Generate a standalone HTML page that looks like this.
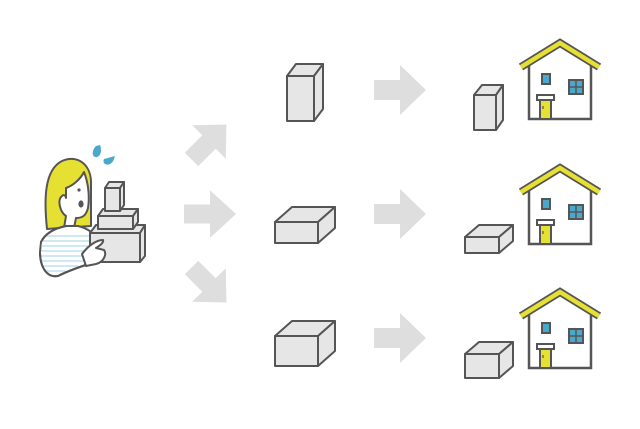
<!DOCTYPE html>
<html><head><meta charset="utf-8"><style>html,body{margin:0;padding:0;background:#fff}svg{display:block}</style></head>
<body>
<svg width="640" height="429" viewBox="0 0 640 429" xmlns="http://www.w3.org/2000/svg">
<defs>
<path id="arr" d="M-26,-10 L0,-10 L0,-25 L26,0 L0,25 L0,10 L-26,10 Z" fill="#dedede"/>
<g id="house">
  <path d="M529,119 L529,62 L560,44 L591,62 L591,119 Z" fill="#fff" stroke="#555" stroke-width="2.5"/>
  <path d="M521,67 L560,43 L599,67" fill="none" stroke="#555" stroke-width="8" stroke-linejoin="miter"/>
  <path d="M521,67 L560,43 L599,67" fill="none" stroke="#e6e033" stroke-width="4.5"/>
  <rect x="542" y="74" width="8" height="10" fill="#4aa8cc" stroke="#555" stroke-width="2"/>
  <rect x="569" y="80" width="14" height="14" fill="#4aa8cc" stroke="#555" stroke-width="2"/>
  <path d="M576,80 V94 M569,87 H583" stroke="#555" stroke-width="1.5"/>
  <rect x="537" y="95" width="17" height="5" fill="#fff" stroke="#555" stroke-width="2"/>
  <rect x="540" y="100" width="11" height="19" fill="#e6e033" stroke="#555" stroke-width="2"/>
  <line x1="543" y1="106" x2="543" y2="109" stroke="#555" stroke-width="1.2"/>
</g>
</defs>
<g fill="#e6e6e6" stroke="#555" stroke-width="2" stroke-linejoin="round">
<path d="M287,76 L296,64 L323,64 L314,76 Z"/><rect x="287" y="76" width="27" height="45"/><path d="M314,76 L323,64 L323,109 L314,121 Z"/>
<path d="M275,222 L292,207 L335,207 L318,222 Z"/><rect x="275" y="222" width="43" height="21"/><path d="M318,222 L335,207 L335,228 L318,243 Z"/>
<path d="M275,336 L292,321 L335,321 L318,336 Z"/><rect x="275" y="336" width="43" height="30"/><path d="M318,336 L335,321 L335,351 L318,366 Z"/>
<path d="M474,95 L482,85 L503,85 L496,95 Z"/><rect x="474" y="95" width="22" height="35"/><path d="M496,95 L503,85 L503,120 L496,130 Z"/>
<path d="M465,237 L479,225 L513,225 L499,237 Z"/><rect x="465" y="237" width="34" height="16"/><path d="M499,237 L513,225 L513,241 L499,253 Z"/>
<path d="M465,354 L479,342 L513,342 L499,354 Z"/><rect x="465" y="354" width="34" height="24"/><path d="M499,354 L513,342 L513,366 L499,378 Z"/>
</g>
<use href="#arr" transform="translate(400,90)"/>
<use href="#arr" transform="translate(400,214)"/>
<use href="#arr" transform="translate(400,338)"/>
<use href="#arr" transform="translate(210,214) scale(1,0.95)"/>
<use href="#arr" transform="translate(209,142) rotate(-45) scale(0.95)"/>
<use href="#arr" transform="translate(209,285) rotate(45) scale(0.95)"/>
<use href="#house"/>
<use href="#house" transform="translate(0,125)"/>
<use href="#house" transform="translate(0,249)"/>
<!-- person -->
<g stroke="#555" stroke-width="2" stroke-linejoin="round" stroke-linecap="round">
  <path d="M47,229 C44,200 44,170 62,161 C78,154 92,165 91,185 L91,226 L60,228 Z" fill="#e6e033"/>
  <path d="M66,188 C72,186 80,180 84,172 C88,182 90,196 88,208 C86,216 82,218 76,218 L74,228 L64,228 L66,216 C60,212 57,200 62,196 C64,194 66,196 66,198 Z" fill="#fff"/>
  <path d="M41,242 C46,232 56,228 66,226 L78,226 C86,228 92,232 95,236 L95,262 C82,266 70,270 58,276 C46,278 40,266 40,252 Z" fill="#fff"/>
</g>
<g stroke="#9fd3e6" stroke-width="1">
  <path d="M46,236 H93 M42,241 H93 M41,246 H93 M41,251 H93 M41,256 H93 M41,261 H90 M42,266 H78 M44,271 H66"/>
</g>
<path d="M41,242 C46,232 56,228 66,226 M40,252 C40,266 46,278 58,276 C70,270 82,266 95,262" fill="none" stroke="#555" stroke-width="2"/>
<circle cx="79" cy="190" r="1.6" fill="#555"/>
<ellipse cx="81" cy="204" rx="2.6" ry="3.6" fill="#555"/>
<path d="M96,146 C91,151 92,158 97,157 C101,156 102,150 100,145 Z" fill="#4aa8cc"/>
<path d="M104,159 C102,163 106,166 110,164 C114,162 114,158 115,156 Z" fill="#4aa8cc"/>
<g fill="#e6e6e6" stroke="#555" stroke-width="2" stroke-linejoin="round">
  <path d="M90,233 L96,225 L145,225 L140,233 Z"/><rect x="90" y="233" width="50" height="29"/><path d="M140,233 L145,225 L145,256 L140,262 Z"/>
  <path d="M98,216 L103,209 L138,209 L133,216 Z"/><rect x="98" y="216" width="35" height="13"/><path d="M133,216 L138,209 L138,222 L133,229 Z"/>
  <path d="M105,188 L109,182 L124,182 L120,188 Z"/><rect x="105" y="188" width="15" height="23"/><path d="M120,188 L124,182 L124,205 L120,211 Z"/>
  <path d="M82,254 C88,246 96,240 103,240 C104,243 99,246 96,248 L104,250 C107,254 104,262 96,264 L86,266 Z" fill="#fff"/>
</g>
</svg>
</body></html>
